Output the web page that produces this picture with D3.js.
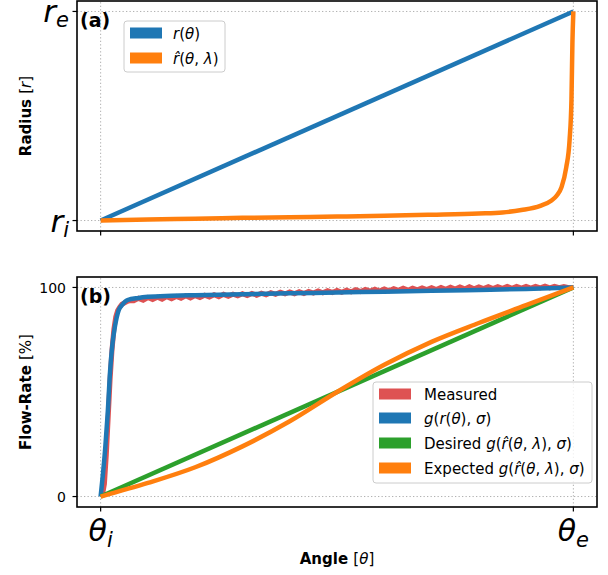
<!DOCTYPE html>
<html>
<head>
<meta charset="utf-8">
<script src="https://cdn.jsdelivr.net/npm/d3@7"></script>
<style>
  body { margin: 0; background: #fff; }
  svg { display: block; font-family: "DejaVu Sans", sans-serif; }
</style>
</head>
<body>
<div id="graph"></div>
<script>
// ---- data (normalised: theta 0 = theta_i, 1 = theta_e; r 0 = r_i, 1 = r_e) ----
var radiusTheta = [0, 1];
var radiusValues = [0, 1];

var rhatTheta = [0, 0.1, 0.2, 0.3, 0.4, 0.5, 0.6, 0.7, 0.8, 0.85, 0.89, 0.93, 0.953, 0.965, 0.975, 0.985, 0.992, 0.996, 0.998, 1];
var rhatValues = [0, 0.005, 0.009, 0.013, 0.016, 0.019, 0.023, 0.028, 0.034, 0.039, 0.05, 0.07, 0.095, 0.12, 0.16, 0.255, 0.385, 0.58, 0.85, 1];

var gTheta = [0, 0.005, 0.01, 0.015, 0.02, 0.025, 0.03, 0.038, 0.045, 0.057, 0.08, 0.1, 0.15, 0.2, 0.3, 0.4, 0.5, 0.6, 0.7, 0.8, 0.9, 1];
var gValues = [0, 11, 24, 40, 60, 73, 81, 89, 91.5, 94, 95, 95.5, 96, 96.3, 96.8, 97.2, 97.6, 98, 98.4, 98.8, 99.3, 100];

var measuredTheta = [0, 0.004, 0.008, 0.012, 0.016, 0.02, 0.024, 0.028, 0.032, 0.036, 0.04, 0.045, 0.05, 0.055, 0.06,
  0.07, 0.08, 0.09, 0.10, 0.11, 0.12, 0.13, 0.14, 0.15, 0.16, 0.17, 0.18, 0.19, 0.20, 0.21, 0.22, 0.23, 0.24, 0.25,
  0.26, 0.27, 0.28, 0.29, 0.30, 0.31, 0.32, 0.33, 0.34, 0.35, 0.36, 0.37, 0.38, 0.39, 0.40, 0.41, 0.42, 0.43, 0.44,
  0.45, 0.46, 0.47, 0.48, 0.49, 0.50, 0.51, 0.52, 0.53, 0.54, 0.55, 0.56, 0.57, 0.58, 0.59, 0.60, 0.61, 0.62, 0.63,
  0.64, 0.65, 0.66, 0.67, 0.68, 0.69, 0.70, 0.71, 0.72, 0.73, 0.74, 0.75, 0.76, 0.77, 0.78, 0.79, 0.80, 0.81, 0.82,
  0.83, 0.84, 0.85, 0.86, 0.87, 0.88, 0.89, 0.90, 0.91, 0.92, 0.93, 0.94, 0.95, 0.96, 0.97, 0.98, 0.99, 1.00];
var measuredValues = [0, 1, 6, 20, 38, 56, 70, 80, 86, 89, 90.5, 92, 92.6, 93.2, 93.6,
  93.6, 94.8, 93.9, 95.2, 94.2, 95.3, 94.4, 95.6, 94.6, 95.7, 94.8, 96.0, 95.0, 96.1, 95.2, 96.3, 95.4, 96.5, 95.6,
  96.7, 95.8, 96.8, 96.0, 97.0, 96.1, 97.1, 96.3, 97.3, 96.5, 97.5, 96.7, 97.7, 96.9, 97.9, 97.0, 98.0, 97.1, 98.1,
  97.3, 98.3, 97.4, 98.4, 97.6, 98.6, 97.7, 98.7, 97.9, 98.9, 98.0, 99.0, 98.2, 99.2, 98.3, 99.3, 98.4, 99.4, 98.6,
  99.6, 98.7, 99.7, 98.9, 99.8, 99.0, 99.9, 99.0, 100.0, 99.1, 100.1, 99.2, 100.2, 99.3, 100.3, 99.4, 100.3, 99.5, 100.4,
  99.5, 100.4, 99.6, 100.5, 99.6, 100.5, 99.7, 100.5, 99.7, 100.5, 99.8, 100.6, 99.8, 100.5, 99.9, 100.4, 99.9, 100.0];

var desiredTheta = [0, 1];
var desiredValues = [0, 100];

var expectedTheta = [0, 0.1, 0.2, 0.3, 0.4, 0.5, 0.6, 0.7, 0.8, 0.9, 1];
var expectedValues = [0, 6.5, 14, 24, 36, 50, 63, 74, 83, 91.5, 100];

var flowTicks = [0, 100];

function pairs(xs, ys) { return xs.map(function(x, i) { return {t: x, v: ys[i]}; }); }

// ---- layout ----
var svg = d3.select("#graph").append("svg")
    .attr("width", 608)
    .attr("height", 575);

var axL = 77, axR = 597;
var topA = {top: 1, bottom: 231}, botA = {top: 277, bottom: 507};

var x = d3.scaleLinear().domain([-0.05, 1.05]).range([axL, axR]);
var yTop = d3.scaleLinear().domain([-0.05, 1.05]).range([topA.bottom, topA.top]);
var yBot = d3.scaleLinear().domain([-5, 105]).range([botA.bottom, botA.top]);

var blue = "#1f77b4", orange = "#ff7f0e", green = "#2ca02c", red = "#de5253";

// helper: text made of [string, style] pieces; style "i" italic, "b" bold, "n" normal
function richText(sel, parts, size) {
    var t = sel.append("text").style("font-size", size + "px").attr("fill", "#000");
    parts.forEach(function(p) {
        t.append("tspan")
            .style("font-style", p[1] === "i" ? "italic" : "normal")
            .style("font-weight", p[1] === "b" ? "bold" : "normal")
            .text(p[0]);
    });
    return t;
}

function grid(g, y, yTicks) {
    var gg = g.append("g").attr("stroke", "#b0b0b0").attr("stroke-width", 1).attr("stroke-dasharray", "1.3,2.2");
    [0, 1].forEach(function(t) {
        gg.append("line").attr("x1", x(t)).attr("x2", x(t)).attr("y1", y.range()[0]).attr("y2", y.range()[1]);
    });
    yTicks.forEach(function(t) {
        gg.append("line").attr("x1", axL).attr("x2", axR).attr("y1", y(t)).attr("y2", y(t));
    });
}

function frame(g, y, yTicks) {
    var f = g.append("g").attr("stroke", "#000");
    f.append("rect").attr("x", axL).attr("y", y.range()[1])
        .attr("width", axR - axL).attr("height", y.range()[0] - y.range()[1])
        .attr("fill", "none").attr("stroke-width", 1.6);
    [0, 1].forEach(function(t) {
        f.append("line").attr("x1", x(t)).attr("x2", x(t))
            .attr("y1", y.range()[0]).attr("y2", y.range()[0] + 4.5).attr("stroke-width", 1.2);
    });
    yTicks.forEach(function(t) {
        f.append("line").attr("x1", axL - 4.5).attr("x2", axL)
            .attr("y1", y(t)).attr("y2", y(t)).attr("stroke-width", 1.2);
    });
}

function legend(g, bx, by, bw, bh, items, hx, tx, rowY) {
    g.append("rect").attr("x", bx).attr("y", by).attr("width", bw).attr("height", bh)
        .attr("rx", 3).attr("fill", "#fff").attr("fill-opacity", 0.8)
        .attr("stroke", "#cccccc").attr("stroke-width", 1);
    items.forEach(function(it, i) {
        var cy = rowY[i];
        g.append("rect").attr("x", hx).attr("y", cy - 5.5).attr("width", 32).attr("height", 11).attr("fill", it.color);
        richText(g, it.label, 15).attr("x", tx).attr("y", cy + 5.5);
    });
}

// ---- panel (a) ----
var ga = svg.append("g");
grid(ga, yTop, [0, 1]);

var lineTop = d3.line().x(function(d) { return x(d.t); }).y(function(d) { return yTop(d.v); });
ga.append("path").datum(pairs(radiusTheta, radiusValues)).attr("d", lineTop)
    .attr("fill", "none").attr("stroke", blue).attr("stroke-width", 4.5);
ga.append("path").datum(pairs(rhatTheta, rhatValues)).attr("d", lineTop.curve(d3.curveMonotoneX))
    .attr("fill", "none").attr("stroke", orange).attr("stroke-width", 4.5).attr("stroke-linejoin", "round");

frame(ga, yTop, [0, 1]);

// r_e / r_i tick labels
[[1, "e"], [0, "i"]].forEach(function(d) {
    var t = ga.append("text").attr("x", 69).attr("y", yTop(d[0]) + 11)
        .attr("text-anchor", "end").style("font-style", "italic").style("font-size", "31px");
    t.append("tspan").text("r");
    t.append("tspan").attr("dy", 5).style("font-size", "21px").text(d[1]);
});

richText(ga, [["(a)", "b"]], 19).attr("x", 80).attr("y", 27);

richText(ga, [["Radius ", "b"], ["[", "n"], ["r", "i"], ["]", "n"]], 15)
    .attr("text-anchor", "middle")
    .attr("transform", "translate(31," + ((topA.top + topA.bottom) / 2) + ") rotate(-90)");

legend(ga, 124, 21, 101, 51, [
    {color: blue, label: [["r", "i"], ["(", "n"], ["\u03b8", "i"], [")", "n"]]},
    {color: orange, label: [["r\u0302", "i"], ["(", "n"], ["\u03b8", "i"], [", ", "n"], ["\u03bb", "i"], [")", "n"]]}
], 130, 173, [33, 58]);

// ---- panel (b) ----
var gb = svg.append("g");
grid(gb, yBot, flowTicks);

var lineBot = d3.line().x(function(d) { return x(d.t); }).y(function(d) { return yBot(d.v); });
var curveBot = d3.line().curve(d3.curveMonotoneX).x(function(d) { return x(d.t); }).y(function(d) { return yBot(d.v); });
gb.append("path").datum(pairs(measuredTheta, measuredValues)).attr("d", lineBot)
    .attr("fill", "none").attr("stroke", red).attr("stroke-width", 5);
gb.append("path").datum(pairs(gTheta, gValues)).attr("d", curveBot)
    .attr("fill", "none").attr("stroke", blue).attr("stroke-width", 4.5);
gb.append("path").datum(pairs(desiredTheta, desiredValues)).attr("d", lineBot)
    .attr("fill", "none").attr("stroke", green).attr("stroke-width", 4.5);
gb.append("path").datum(pairs(expectedTheta, expectedValues)).attr("d", curveBot)
    .attr("fill", "none").attr("stroke", orange).attr("stroke-width", 4.5);

frame(gb, yBot, flowTicks);

flowTicks.forEach(function(t) {
    gb.append("text").attr("x", 66).attr("y", yBot(t) + 5.5).attr("text-anchor", "end")
        .style("font-size", "14px").text(t);
});

[[0, "i"], [1, "e"]].forEach(function(d) {
    var t = gb.append("text").attr("x", x(d[0])).attr("y", 541)
        .attr("text-anchor", "middle").style("font-style", "italic").style("font-size", "30px");
    t.append("tspan").text("\u03b8");
    t.append("tspan").attr("dy", 6).style("font-size", "21px").text(d[1]);
});

richText(gb, [["(b)", "b"]], 19).attr("x", 80).attr("y", 303);

richText(gb, [["Flow-Rate ", "b"], ["[%]", "n"]], 15)
    .attr("text-anchor", "middle")
    .attr("transform", "translate(31," + ((botA.top + botA.bottom) / 2) + ") rotate(-90)");

richText(gb, [["Angle ", "b"], ["[", "n"], ["\u03b8", "i"], ["]", "n"]], 15)
    .attr("text-anchor", "middle").attr("x", (axL + axR) / 2).attr("y", 564);

var gPart = [["g", "i"], ["(", "n"], ["r\u0302", "i"], ["(", "n"], ["\u03b8", "i"], [", ", "n"], ["\u03bb", "i"], ["), ", "n"], ["\u03c3", "i"], [")", "n"]];
legend(gb, 373, 382, 219, 101, [
    {color: red, label: [["Measured", "n"]]},
    {color: blue, label: [["g", "i"], ["(", "n"], ["r", "i"], ["(", "n"], ["\u03b8", "i"], ["), ", "n"], ["\u03c3", "i"], [")", "n"]]},
    {color: green, label: [["Desired ", "n"]].concat(gPart)},
    {color: orange, label: [["Expected ", "n"]].concat(gPart)}
], 379, 424, [394, 418, 443, 468]);
</script>
</body>
</html>
